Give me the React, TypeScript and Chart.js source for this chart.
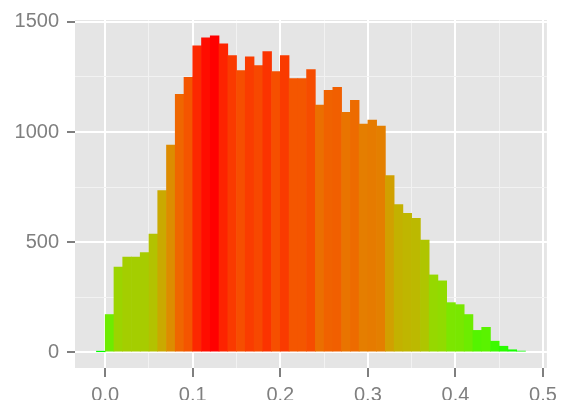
import React, { useEffect, useRef } from "react";
import { Chart, registerables } from "chart.js";

Chart.register(...registerables);

// Histogram bins (left edges, width 0.01)
const binStart = [
  -0.01, 0.0, 0.01, 0.02, 0.03, 0.04, 0.05, 0.06, 0.07, 0.08, 0.09,
  0.1, 0.11, 0.12, 0.13, 0.14, 0.15, 0.16, 0.17, 0.18, 0.19,
  0.2, 0.21, 0.22, 0.23, 0.24, 0.25, 0.26, 0.27, 0.28, 0.29,
  0.3, 0.31, 0.32, 0.33, 0.34, 0.35, 0.36, 0.37, 0.38, 0.39,
  0.4, 0.41, 0.42, 0.43, 0.44, 0.45, 0.46, 0.47,
];
const binWidth = 0.01;

const counts = [
  2, 171, 387, 432, 432, 452, 537, 734, 941, 1171, 1248,
  1392, 1428, 1437, 1401, 1347, 1279, 1342, 1302, 1365, 1275,
  1347, 1243, 1243, 1284, 1122, 1189, 1203, 1090, 1144, 1036,
  1054, 1027, 802, 671, 631, 608, 509, 351, 324, 225,
  216, 171, 99, 113, 50, 27, 11, 5,
];

const xMajorTicks = [0, 0.1, 0.2, 0.3, 0.4, 0.5];
const xMinorTicks = [0.05, 0.15, 0.25, 0.35, 0.45];
const yMajorTicks = [0, 500, 1000, 1500];
const yMinorTicks = [250, 750, 1250];

const lowColor = "#00FF00";
const highColor = "#FF0000";

// ---- Lab colour interpolation (like ggplot2's gradient) ----
function hexToRgb(h: string) {
  const n = parseInt(h.slice(1), 16);
  return [(n >> 16) & 255, (n >> 8) & 255, n & 255];
}
function toLin(c: number) {
  c /= 255;
  return c <= 0.04045 ? c / 12.92 : Math.pow((c + 0.055) / 1.055, 2.4);
}
function fromLin(c: number) {
  const v = c <= 0.0031308 ? 12.92 * c : 1.055 * Math.pow(c, 1 / 2.4) - 0.055;
  return Math.max(0, Math.min(255, Math.round(v * 255)));
}
const WX = 0.95047, WY = 1.0, WZ = 1.08883;
function rgbToLab(rgb: number[]) {
  const r = toLin(rgb[0]), g = toLin(rgb[1]), b = toLin(rgb[2]);
  const X = (0.4124564 * r + 0.3575761 * g + 0.1804375 * b) / WX;
  const Y = (0.2126729 * r + 0.7151522 * g + 0.072175 * b) / WY;
  const Z = (0.0193339 * r + 0.119192 * g + 0.9503041 * b) / WZ;
  const f = (t: number) => (t > 0.008856 ? Math.cbrt(t) : 7.787 * t + 16 / 116);
  const fx = f(X), fy = f(Y), fz = f(Z);
  return [116 * fy - 16, 500 * (fx - fy), 200 * (fy - fz)];
}
function labToRgb(lab: number[]) {
  const fy = (lab[0] + 16) / 116;
  const fx = fy + lab[1] / 500;
  const fz = fy - lab[2] / 200;
  const inv = (t: number) => (t * t * t > 0.008856 ? t * t * t : (t - 16 / 116) / 7.787);
  const X = inv(fx) * WX, Y = inv(fy) * WY, Z = inv(fz) * WZ;
  const r = 3.2404542 * X - 1.5371385 * Y - 0.4985314 * Z;
  const g = -0.969266 * X + 1.8760108 * Y + 0.041556 * Z;
  const b = 0.0556434 * X - 0.2040259 * Y + 1.0572252 * Z;
  return `rgb(${fromLin(r)},${fromLin(g)},${fromLin(b)})`;
}
const labLow = rgbToLab(hexToRgb(lowColor));
const labHigh = rgbToLab(hexToRgb(highColor));
function gradient(v: number, lo: number, hi: number) {
  const t = hi === lo ? 0 : (v - lo) / (hi - lo);
  return labToRgb([0, 1, 2].map((i) => labLow[i] + (labHigh[i] - labLow[i]) * t));
}

const TEXT = "#7F7F7F";
const FONT = { family: "'Liberation Sans', Arial, sans-serif", size: 20 };

export default function App() {
  const ref = useRef<HTMLCanvasElement>(null);

  useEffect(() => {
    if (!ref.current) return;
    const cMin = Math.min(...counts);
    const cMax = Math.max(...counts);
    const xs = binStart.map((s) => s + binWidth / 2);
    const xLo = binStart[0];
    const xHi = binStart[binStart.length - 1] + binWidth;
    const xPad = (xHi - xLo) * 0.05;
    const yPad = cMax * 0.05;

    const isMajor = (arr: number[], c: any) => {
      const v = c && c.tick ? c.tick.value : NaN;
      return arr.some((m) => Math.abs(m - v) < 1e-9);
    };
    const isMajorV = (arr: number[], v: number) => arr.some((m) => Math.abs(m - v) < 1e-9);

    const panelBg = {
      id: "panelBg",
      beforeDraw(chart: any) {
        const { ctx, chartArea: a } = chart;
        ctx.save();
        ctx.fillStyle = "#E5E5E5";
        ctx.fillRect(a.left, a.top, a.right - a.left, a.bottom - a.top);
        ctx.restore();
      },
    };

    const chart = new Chart(ref.current, {
      type: "bar",
      data: {
        datasets: [
          {
            data: xs.map((x, i) => ({ x, y: counts[i] })),
            backgroundColor: counts.map((c) => gradient(c, cMin, cMax)),
            borderWidth: 0,
            barPercentage: 1,
            categoryPercentage: 1,
            grouped: false,
          },
        ],
      },
      options: {
        responsive: false,
        animation: false,
        layout: { padding: { top: 17, right: 15, left: 0, bottom: 0 } },
        plugins: { legend: { display: false }, tooltip: { enabled: false } },
        scales: {
          x: {
            type: "linear",
            offset: false,
            min: xLo - xPad,
            max: xHi + xPad,
            afterBuildTicks: (s: any) => {
              s.ticks = [...xMinorTicks, ...xMajorTicks]
                .sort((a, b) => a - b)
                .map((v) => ({ value: v }));
            },
            afterFit: (s: any) => {
              s.height = 32;
            },
            border: { display: false },
            grid: {
              offset: false,
              color: (c: any) => (isMajor(xMajorTicks, c) ? "#FFFFFF" : "#F2F2F2"),
              lineWidth: (c: any) => (isMajor(xMajorTicks, c) ? 2 : 1),
              tickColor: (c: any) => (isMajor(xMajorTicks, c) ? TEXT : "rgba(0,0,0,0)"),
              tickWidth: 2,
              tickLength: 9,
            },
            ticks: {
              autoSkip: false,
              maxRotation: 0,
              color: TEXT,
              font: FONT,
              padding: 6,
              callback: (v: any) => (isMajorV(xMajorTicks, Number(v)) ? Number(v).toFixed(1) : ""),
            },
          },
          y: {
            type: "linear",
            min: -yPad,
            max: cMax + yPad,
            afterBuildTicks: (s: any) => {
              s.ticks = [...yMajorTicks, ...yMinorTicks]
                .sort((a, b) => a - b)
                .map((v) => ({ value: v }));
            },
            afterFit: (s: any) => {
              s.width = 75;
            },
            border: { display: false },
            grid: {
              offset: false,
              color: (c: any) => (isMajor(yMajorTicks, c) ? "#FFFFFF" : "#F2F2F2"),
              lineWidth: (c: any) => (isMajor(yMajorTicks, c) ? 2 : 1),
              tickColor: (c: any) => (isMajor(yMajorTicks, c) ? TEXT : "rgba(0,0,0,0)"),
              tickWidth: 2,
              tickLength: 8,
            },
            ticks: {
              autoSkip: false,
              color: TEXT,
              font: FONT,
              padding: 8,
              callback: (v: any) => (isMajorV(yMajorTicks, Number(v)) ? String(v) : ""),
            },
          },
        },
      },
      plugins: [panelBg],
    });
    return () => chart.destroy();
  }, []);

  return (
    <div style={{ position: "absolute", left: 0, top: 0, width: 563, height: 400, background: "#fff" }}>
      <canvas ref={ref} width={563} height={400} style={{ display: "block" }} />
    </div>
  );
}
